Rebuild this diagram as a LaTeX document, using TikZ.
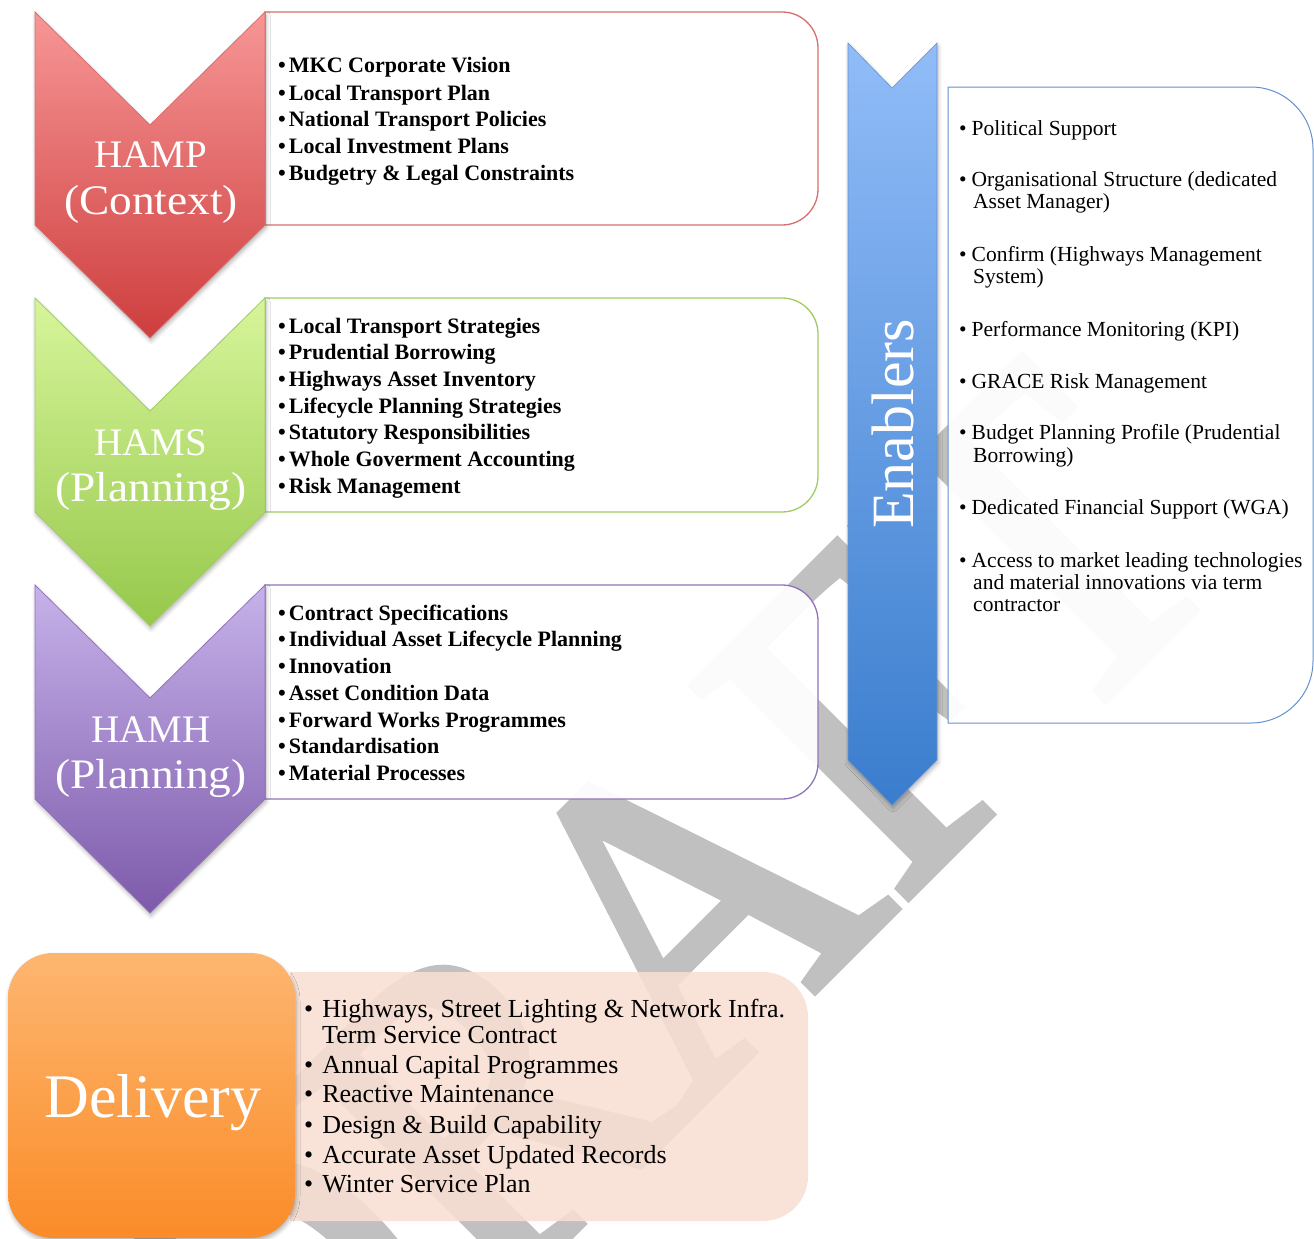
\documentclass[tikz,border=0pt]{standalone}
\usepackage{fontspec}
\setmainfont{Liberation Serif}
\newfontfamily\widelabelfont[FakeStretch=1.08]{Liberation Serif}
\newfontfamily\stampfont[FakeStretch=0.9,FakeBold=2]{Liberation Serif}
\usetikzlibrary{shadows.blur}
\definecolor{redtop}{RGB}{247,150,150}
\definecolor{redbot}{RGB}{206,62,62}
\definecolor{redline}{RGB}{216,110,110}
\definecolor{greentop}{RGB}{215,245,155}
\definecolor{greenbot}{RGB}{150,200,75}
\definecolor{greenline}{RGB}{160,204,100}
\definecolor{purptop}{RGB}{198,178,234}
\definecolor{purpbot}{RGB}{125,90,170}
\definecolor{purpline}{RGB}{145,115,185}
\definecolor{bluetop}{RGB}{145,188,248}
\definecolor{bluebot}{RGB}{58,125,205}
\definecolor{blueline}{RGB}{100,145,205}
\definecolor{orangetop}{RGB}{253,182,112}
\definecolor{orangebot}{RGB}{250,140,40}
\definecolor{pinkfill}{RGB}{248,222,210}
\definecolor{wmgray}{RGB}{192,192,192}
\begin{document}
\begin{tikzpicture}[x=1pt,y=-1pt,
  boldline/.style={anchor=base west, inner sep=0pt, font=\fontsize{22}{22}\selectfont\bfseries},
  enabline/.style={anchor=base west, inner sep=0pt, font=\fontsize{21.5}{22}\selectfont},
  deliline/.style={anchor=base west, inner sep=0pt, font=\fontsize{26}{26}\selectfont},
  chevlabel/.style={anchor=base, inner sep=0pt, text=white, font=\fontsize{39}{39}\selectfont},
  chevsub/.style={anchor=base, inner sep=0pt, text=white, font=\widelabelfont\fontsize{42}{42}\selectfont},
  listbox/.style={fill=white, fill opacity=0.94, line width=1.3pt},
  softshadow/.style={blur shadow={shadow xshift=1pt, shadow yshift=-3pt, shadow blur radius=4pt, shadow opacity=30}},
]
\useasboundingbox (0,0) rectangle (1314,1239);

% watermark
\begin{scope}
  \clip (0,0) rectangle (1314,1239);
  \node[rotate=45, text=wmgray, inner sep=0pt, font=\stampfont\fontsize{460}{460}\selectfont] (wm) at (653,938) {DRAFT};
\end{scope}

% list boxes beside the chevrons
\path[listbox, draw=redline] (265,12) -- (782,12) arc[start angle=-90,end angle=0,radius=36]
  -- (818,189) arc[start angle=0,end angle=90,radius=36] -- (265,225) -- cycle;
\path[listbox, draw=greenline] (265,298) -- (782,298) arc[start angle=-90,end angle=0,radius=36]
  -- (818,476) arc[start angle=0,end angle=90,radius=36] -- (265,512) -- cycle;
\path[listbox, draw=purpline] (265,585) -- (782,585) arc[start angle=-90,end angle=0,radius=36]
  -- (818,763) arc[start angle=0,end angle=90,radius=36] -- (265,799) -- cycle;

% chevrons
\shadedraw[softshadow, top color=redtop, bottom color=redbot, draw=redline, line width=0.8pt]
  (35,12) -- (150,125) -- (265,12) -- (265,225) -- (150,338) -- (35,225) -- cycle;
\shadedraw[softshadow, top color=greentop, bottom color=greenbot, draw=greenline, line width=0.8pt]
  (35,298) -- (150,411) -- (265,298) -- (265,512) -- (150,626) -- (35,512) -- cycle;
\shadedraw[softshadow, top color=purptop, bottom color=purpbot, draw=purpline, line width=0.8pt]
  (35,585) -- (150,698) -- (265,585) -- (265,799) -- (150,913) -- (35,799) -- cycle;

\node[chevlabel] (hamp1) at (151,167) {HAMP};
\node[chevsub]   (hamp2) at (151,214) {(Context)};
\node[chevlabel] (hams1) at (151,455) {HAMS};
\node[chevsub]   (hams2) at (151,501) {(Planning)};
\node[chevlabel] (hamh1) at (151,742) {HAMH};
\node[chevsub]   (hamh2) at (151,788) {(Planning)};

% context list
\node[boldline] (c1) at (278,73)  {•\hspace{3pt}MKC Corporate Vision};
\node[boldline] (c2) at (278,100) {•\hspace{3pt}Local Transport Plan};
\node[boldline] (c3) at (278,126) {•\hspace{3pt}National Transport Policies};
\node[boldline] (c4) at (278,153) {•\hspace{3pt}Local Investment Plans};
\node[boldline] (c5) at (278,180) {•\hspace{3pt}Budgetry \& Legal Constraints};

% strategy list
\node[boldline] (s1) at (278,333) {•\hspace{3pt}Local Transport Strategies};
\node[boldline] (s2) at (278,359) {•\hspace{3pt}Prudential Borrowing};
\node[boldline] (s3) at (278,386) {•\hspace{3pt}Highways Asset Inventory};
\node[boldline] (s4) at (278,413) {•\hspace{3pt}Lifecycle Planning Strategies};
\node[boldline] (s5) at (278,439) {•\hspace{3pt}Statutory Responsibilities};
\node[boldline] (s6) at (278,466) {•\hspace{3pt}Whole Goverment Accounting};
\node[boldline] (s7) at (278,493) {•\hspace{3pt}Risk Management};

% planning list
\node[boldline] (p1) at (278,620) {•\hspace{3pt}Contract Specifications};
\node[boldline] (p2) at (278,646) {•\hspace{3pt}Individual Asset Lifecycle Planning};
\node[boldline] (p3) at (278,673) {•\hspace{3pt}Innovation};
\node[boldline] (p4) at (278,700) {•\hspace{3pt}Asset Condition Data};
\node[boldline] (p5) at (278,727) {•\hspace{3pt}Forward Works Programmes};
\node[boldline] (p6) at (278,753) {•\hspace{3pt}Standardisation};
\node[boldline] (p7) at (278,780) {•\hspace{3pt}Material Processes};

% enablers
\path[fill=white, fill opacity=0.94, draw=blueline, line width=1pt]
  (948,87) -- (1251,87) arc[start angle=-90,end angle=0,radius=62]
  -- (1313,661) arc[start angle=0,end angle=90,radius=62] -- (948,723) -- cycle;
\shadedraw[softshadow, top color=bluetop, bottom color=bluebot, draw=blueline, line width=0.6pt]
  (848,43) -- (892,88) -- (937,43) -- (937,760) -- (892,805) -- (848,760) -- cycle;
\node[rotate=90, anchor=base, inner sep=0pt, text=white, font=\fontsize{60}{60}\selectfont] (enab) at (913,424) {Enablers};

\node[enabline] (e1)  at (959,135) {•\hspace{5pt}Political Support};
\node[enabline] (e2)  at (959,186) {•\hspace{5pt}Organisational Structure (dedicated};
\node[enabline] (e2b) at (973,208) {Asset Manager)};
\node[enabline] (e3)  at (959,261) {•\hspace{5pt}Confirm (Highways Management};
\node[enabline] (e3b) at (973,283) {System)};
\node[enabline] (e4)  at (959,336) {•\hspace{5pt}Performance Monitoring (KPI)};
\node[enabline] (e5)  at (959,388) {•\hspace{5pt}GRACE Risk Management};
\node[enabline] (e6)  at (959,439) {•\hspace{5pt}Budget Planning Profile (Prudential};
\node[enabline] (e6b) at (973,462) {Borrowing)};
\node[enabline] (e7)  at (959,514) {•\hspace{5pt}Dedicated Financial Support (WGA)};
\node[enabline] (e8)  at (959,567) {•\hspace{5pt}Access to market leading technologies};
\node[enabline] (e8b) at (973,589) {and material innovations via term};
\node[enabline] (e8c) at (973,611) {contractor};

% delivery
\path[fill=pinkfill, fill opacity=0.88]
  (290,972) -- (763,972) arc[start angle=-90,end angle=0,radius=45]
  -- (808,1176) arc[start angle=0,end angle=90,radius=45] -- (290,1221) -- cycle;
\shade[softshadow, top color=orangetop, bottom color=orangebot, rounded corners=45pt]
  (8,953) rectangle (295,1238);
\node[anchor=base, inner sep=0pt, text=white, font=\fontsize{62}{62}\selectfont] (deliv) at (153,1117) {Delivery};

\node[deliline] (d1)  at (304,1017) {•\hspace{9pt}Highways, Street Lighting \& Network Infra.};
\node[deliline] (d1b) at (322,1043) {Term Service Contract};
\node[deliline] (d2)  at (304,1073) {•\hspace{9pt}Annual Capital Programmes};
\node[deliline] (d3)  at (304,1102) {•\hspace{9pt}Reactive Maintenance};
\node[deliline] (d4)  at (304,1133) {•\hspace{9pt}Design \& Build Capability};
\node[deliline] (d5)  at (304,1163) {•\hspace{9pt}Accurate Asset Updated Records};
\node[deliline] (d6)  at (304,1192) {•\hspace{9pt}Winter Service Plan};
\end{tikzpicture}
\end{document}
